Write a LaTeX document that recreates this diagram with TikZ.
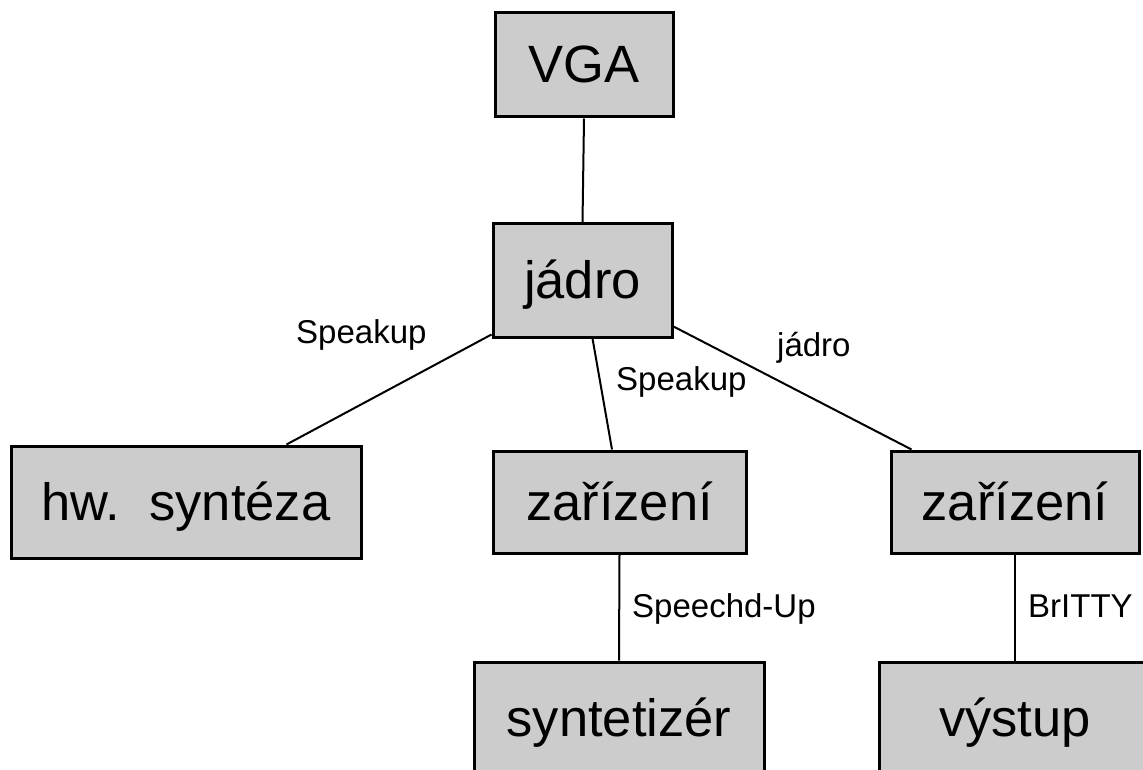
\documentclass[tikz,border=0pt]{standalone}
\usepackage{fontspec}
\setmainfont{Liberation Sans}
\begin{document}
\begin{tikzpicture}[x=1pt,y=-1pt,
  box/.style={draw=black, line width=3pt, fill=boxgray, inner sep=0pt,
    font=\fontsize{52.5}{60}\selectfont, text height=36pt, text depth=0pt},
  link/.style={draw=black, line width=2pt},
  lbl/.style={inner sep=0pt, anchor=base west, font=\fontsize{33}{38}\selectfont}]
\definecolor{boxgray}{RGB}{204,204,204}
\useasboundingbox (0,0) rectangle (1143,770);
\clip (0,0) rectangle (1143,770);

% boxes
\node[box, minimum width=178pt, minimum height=104pt] (vga)   at (584,65)    {VGA};
\node[box, minimum width=179pt, minimum height=113pt] (jadro) at (582.5,280.5) {jádro};
\node[box, minimum width=350pt, minimum height=112pt] (hw)    at (186,502)   {hw.\ \ syntéza};
\node[box, minimum width=253pt, minimum height=102pt] (zar1)  at (619.5,502) {zařízení};
\node[box, minimum width=248pt, minimum height=102pt] (zar2)  at (1015,502)  {zařízení};
\node[box, minimum width=290pt, minimum height=112pt] (synt)  at (619,718)   {syntetizér};
\node[box, minimum width=272pt, minimum height=112pt] (vyst)  at (1015,718)  {výstup};

% connectors (shifts are in canvas pt: positive yshift moves up)
\draw[link] (vga.south) -- (jadro.north);
\draw[link] ([yshift=4pt]jadro.south west) -- ([xshift=277pt]hw.north west);
\draw[link] ([xshift=10pt]jadro.south) -- ([xshift=-7.5pt]zar1.north);
\draw[link] ([yshift=12pt]jadro.south east) -- ([xshift=22pt]zar2.north west);
\draw[link] (zar1.south) -- (synt.north);
\draw[link] (zar2.south) -- (vyst.north);

% connector labels
\node[lbl] (l1) at (296,343) {Speakup};
\node[lbl] (l2) at (616,390) {Speakup};
\node[lbl] (l3) at (777,356) {jádro};
\node[lbl] (l4) at (632,617) {Speechd-Up};
\node[lbl] (l5) at (1028,617) {BrITTY};
\end{tikzpicture}
\end{document}
